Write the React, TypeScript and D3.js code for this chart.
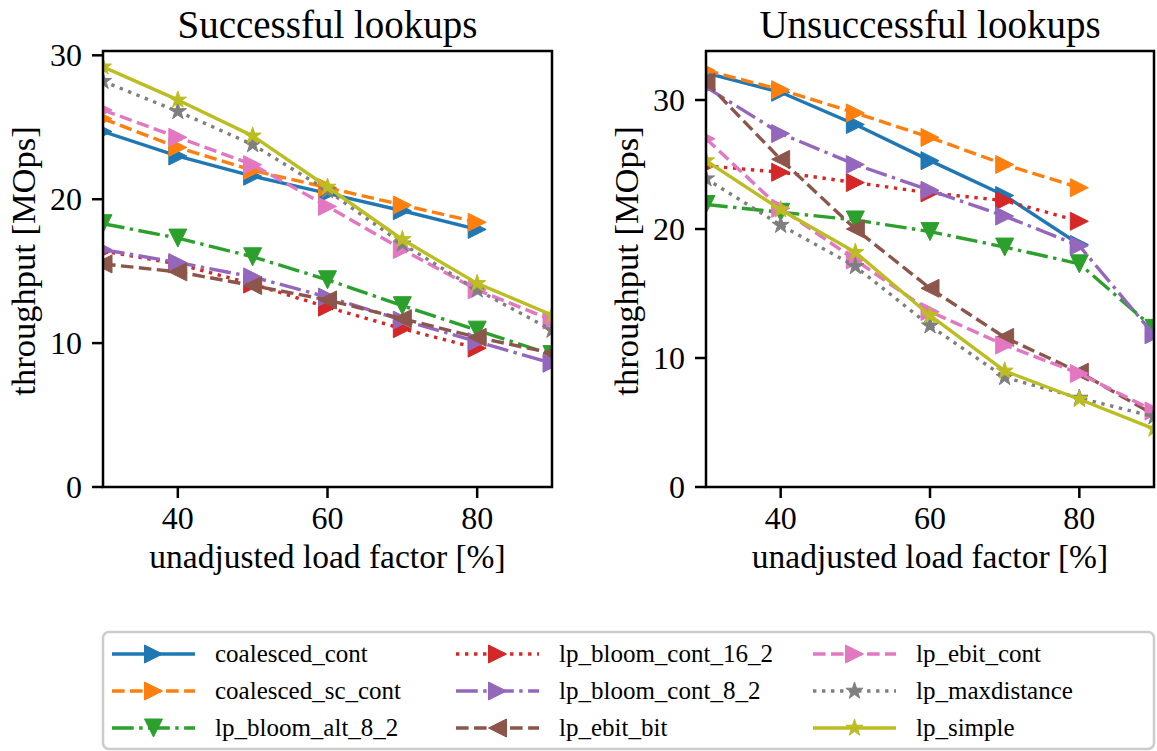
import React from 'react';
import * as d3 from 'd3';

const loadFactors = [30, 40, 50, 60, 70, 80, 90];
const xTicks = [40, 60, 80];
const yTicks = [0, 10, 20, 30];

const seriesNames = [
  'coalesced_cont', 'coalesced_sc_cont', 'lp_bloom_alt_8_2',
  'lp_bloom_cont_16_2', 'lp_bloom_cont_8_2', 'lp_ebit_bit',
  'lp_ebit_cont', 'lp_maxdistance', 'lp_simple',
];
const seriesColors = ['#1f77b4', '#ff7f0e', '#2ca02c', '#d62728', '#9467bd', '#8c564b', '#e377c2', '#7f7f7f', '#bcbd22'];
const seriesDash = ['solid', 'dashed', 'dashdot', 'dotted', 'dashdot', 'dashed', 'dashed', 'dotted', 'solid'];
const seriesMarker = ['>', '>', 'v', '>', '>', '<', '>', '*', '*'];

// Successful lookups (MOps)
const succCoalescedCont = [24.7, 23.0, 21.6, 20.4, 19.2, 17.9];
const succCoalescedScCont = [25.6, 23.6, 22.0, 20.8, 19.6, 18.4];
const succBloomAlt82 = [18.3, 17.3, 16.0, 14.4, 12.6, 10.9, 9.2];
const succBloomCont162 = [16.4, 15.5, 14.1, 12.5, 11.0, 9.65];
const succBloomCont82 = [16.5, 15.6, 14.6, 13.2, 11.6, 10.1, 8.6];
const succEbitBit = [15.5, 14.95, 14.0, 13.0, 11.7, 10.4, 9.3];
const succEbitCont = [26.2, 24.3, 22.4, 19.5, 16.5, 13.7, 11.6];
const succMaxdistance = [28.2, 26.1, 23.8, 20.6, 16.9, 13.7, 10.9];
const succSimple = [29.2, 26.9, 24.4, 20.85, 17.2, 14.15, 11.95];

// Unsuccessful lookups (MOps)
const unsCoalescedCont = [32.1, 30.6, 28.1, 25.3, 22.6, 18.8];
const unsCoalescedScCont = [32.3, 30.8, 29.0, 27.1, 25.0, 23.2];
const unsBloomAlt82 = [21.9, 21.3, 20.7, 19.8, 18.6, 17.3, 12.3];
const unsBloomCont162 = [24.9, 24.4, 23.6, 22.8, 22.2, 20.6];
const unsBloomCont82 = [31.0, 27.4, 25.0, 23.0, 21.0, 18.7, 11.8];
const unsEbitBit = [31.4, 25.4, 20.0, 15.4, 11.6, 8.9, 5.6];
const unsEbitCont = [27.0, 21.6, 17.6, 13.6, 11.0, 8.8, 5.9];
const unsMaxdistance = [23.9, 20.3, 17.1, 12.5, 8.5, 6.9, 5.45];
const unsSimple = [25.3, 21.5, 18.2, 13.3, 9.0, 6.8, 4.5];

const succData = [succCoalescedCont, succCoalescedScCont, succBloomAlt82, succBloomCont162, succBloomCont82, succEbitBit, succEbitCont, succMaxdistance, succSimple];
const unsData = [unsCoalescedCont, unsCoalescedScCont, unsBloomAlt82, unsBloomCont162, unsBloomCont82, unsEbitBit, unsEbitCont, unsMaxdistance, unsSimple];

const FONT = '"Liberation Serif", "Times New Roman", serif';
const LW = 3.4;
const MS = 18;

function dashArray(style: string): string | undefined {
  if (style === 'dashed') return `${3.7 * LW} ${1.6 * LW}`;
  if (style === 'dotted') return `${1 * LW} ${1.65 * LW}`;
  if (style === 'dashdot') return `${6.4 * LW} ${1.6 * LW} ${1 * LW} ${1.6 * LW}`;
  return undefined;
}

function markerPath(m: string): string {
  const s = MS / 2;
  if (m === '>') return `M${s},0L${-s},${-s}L${-s},${s}Z`;
  if (m === '<') return `M${-s},0L${s},${-s}L${s},${s}Z`;
  if (m === 'v') return `M0,${s}L${-s},${-s}L${s},${-s}Z`;
  // 5-point star
  const inner = s * 0.381966;
  const pts: string[] = [];
  for (let i = 0; i < 10; i++) {
    const r = i % 2 === 0 ? s : inner;
    const a = -Math.PI / 2 + (i * Math.PI) / 5;
    pts.push(`${(r * Math.cos(a)).toFixed(2)},${(r * Math.sin(a)).toFixed(2)}`);
  }
  return 'M' + pts.join('L') + 'Z';
}

type PanelProps = {
  id: string;
  title: string;
  data: number[][];
  left: number;
  right: number;
  top: number;
  bottom: number;
  yMax: number;
};

function Panel({ id, title, data, left, right, top, bottom, yMax }: PanelProps) {
  const x = d3.scaleLinear().domain([30, 90]).range([left, right]);
  const y = d3.scaleLinear().domain([0, yMax]).range([bottom, top]);
  const line = d3.line<[number, number]>().x(d => x(d[0])).y(d => y(d[1]));
  const cx = (left + right) / 2;
  const cy = (top + bottom) / 2;
  return (
    <g>
      <defs>
        <clipPath id={`clip-${id}`}>
          <rect x={left} y={top} width={right - left} height={bottom - top} />
        </clipPath>
      </defs>
      <text x={cx} y={38} textAnchor="middle" fontFamily={FONT} fontSize={39} fill="#000">{title}</text>
      <g clipPath={`url(#clip-${id})`}>
        {data.map((vals, si) => {
          const pts: [number, number][] = vals.map((v, i) => [loadFactors[i], v]);
          return (
            <g key={si}>
              <path d={line(pts) || ''} fill="none" stroke={seriesColors[si]} strokeWidth={LW}
                strokeDasharray={dashArray(seriesDash[si])} strokeLinejoin="round" />
              {pts.map((p, i) => (
                <path key={i} d={markerPath(seriesMarker[si])} transform={`translate(${x(p[0])},${y(p[1])})`}
                  fill={seriesColors[si]} stroke={seriesColors[si]} strokeWidth={1} />
              ))}
            </g>
          );
        })}
      </g>
      <rect x={left} y={top} width={right - left} height={bottom - top} fill="none" stroke="#000" strokeWidth={2.5} />
      {yTicks.map(t => (
        <g key={t}>
          <line x1={left - 11} x2={left} y1={y(t)} y2={y(t)} stroke="#000" strokeWidth={2.5} />
          <text x={left - 21} y={y(t)} dy="0.34em" textAnchor="end" fontFamily={FONT} fontSize={32} fill="#000">{t}</text>
        </g>
      ))}
      {xTicks.map(t => (
        <g key={t}>
          <line x1={x(t)} x2={x(t)} y1={bottom} y2={bottom + 11} stroke="#000" strokeWidth={2.5} />
          <text x={x(t)} y={529} textAnchor="middle" fontFamily={FONT} fontSize={32} fill="#000">{t}</text>
        </g>
      ))}
      <text x={cx} y={568} textAnchor="middle" fontFamily={FONT} fontSize={33.5} fill="#000">unadjusted load factor [%]</text>
      <text transform={`translate(${left - 68},${cy - 8}) rotate(-90)`} textAnchor="middle" fontFamily={FONT} fontSize={34.5} fill="#000">throughput [MOps]</text>
    </g>
  );
}

const legendCols = [112, 456, 813];
const legendRows = [654, 691, 728];

function Legend() {
  const handleLen = 83;
  return (
    <g>
      <rect x={103} y={632} width={1051} height={117} rx={6} ry={6} fill="#fff" fillOpacity={0.8} stroke="#cccccc" strokeWidth={2.5} />
      {seriesNames.map((name, i) => {
        const col = Math.floor(i / 3);
        const row = i % 3;
        const x0 = legendCols[col];
        const yy = legendRows[row];
        return (
          <g key={name}>
            <line x1={x0} x2={x0 + handleLen} y1={yy} y2={yy} stroke={seriesColors[i]} strokeWidth={LW}
              strokeDasharray={dashArray(seriesDash[i])} />
            <path d={markerPath(seriesMarker[i])} transform={`translate(${x0 + handleLen / 2},${yy})`}
              fill={seriesColors[i]} stroke={seriesColors[i]} strokeWidth={1} />
            <text x={x0 + 103} y={yy} dy="0.32em" fontFamily={FONT} fontSize={25} fill="#000">{name}</text>
          </g>
        );
      })}
    </g>
  );
}

export default function App() {
  return (
    <svg width={1157} height={751} style={{ position: 'absolute', left: 0, top: 0, background: '#fff' }}>
      <rect x={0} y={0} width={1157} height={751} fill="#fff" />
      <Panel id="succ" title="Successful lookups" data={succData} left={103} right={552} top={51} bottom={487} yMax={30.3} />
      <Panel id="uns" title="Unsuccessful lookups" data={unsData} left={706} right={1154} top={51} bottom={487} yMax={33.8} />
      <Legend />
    </svg>
  );
}
